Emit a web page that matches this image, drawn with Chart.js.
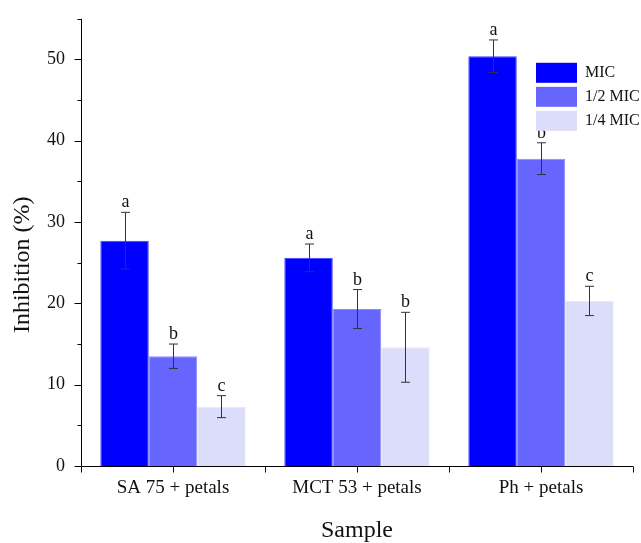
<!DOCTYPE html>
<html>
<head>
<meta charset="utf-8">
<script src="https://cdn.jsdelivr.net/npm/chart.js@4"></script>
<style>
  html, body { margin: 0; padding: 0; background: #fff; }
  #wrap { width: 641px; height: 543px; }
</style>
</head>
<body>
<div id="wrap"><canvas id="c" width="641" height="543"></canvas></div>
<script>
// Inhibition (%) per sample at three concentrations, with SD and significance letters.
const categories = ['SA 75 + petals', 'MCT 53 + petals', 'Ph + petals'];
const seriesNames = ['MIC', '1/2 MIC', '1/4 MIC'];
const seriesColors = ['#0000ff', '#6666ff', '#dcdcfb'];
const seriesEdges = ['#4040ff', '#8c8cff', '#e8e8fd'];

const micValues = [27.7, 25.6, 50.4];
const halfMicValues = [13.5, 19.3, 37.8];
const quarterMicValues = [7.3, 14.6, 20.3];

const micErrors = [3.5, 1.7, 2.0];
const halfMicErrors = [1.5, 2.4, 1.95];
const quarterMicErrors = [1.35, 4.3, 1.8];

const micLetters = ['a', 'a', 'a'];
const halfMicLetters = ['b', 'b', 'b'];
const quarterMicLetters = ['c', 'b', 'c'];

const yTicks = [0, 10, 20, 30, 40, 50];
const FONT = '"Liberation Serif", "DejaVu Serif", serif';

const values = [micValues, halfMicValues, quarterMicValues];
const errors = [micErrors, halfMicErrors, quarterMicErrors];
const letters = [micLetters, halfMicLetters, quarterMicLetters];

// error bars, letters, axis tick marks, y title and the in-plot legend
const extras = {
  id: 'extras',
  afterDatasetsDraw(chart) {
    const { ctx, chartArea: a } = chart;
    const ys = chart.scales.y;
    ctx.save();

    // error bars + letters
    values.forEach((vals, i) => {
      const meta = chart.getDatasetMeta(i);
      vals.forEach((v, j) => {
        const x = Math.round(meta.data[j].x) + 0.5;
        const top = ys.getPixelForValue(v + errors[i][j]);
        const bot = ys.getPixelForValue(v - errors[i][j]);
        ctx.strokeStyle = '#333';
        ctx.lineWidth = 1;
        ctx.beginPath();
        ctx.moveTo(x, top); ctx.lineTo(x, bot);
        ctx.moveTo(x - 4.5, top); ctx.lineTo(x + 4.5, top);
        ctx.moveTo(x - 4.5, bot); ctx.lineTo(x + 4.5, bot);
        ctx.stroke();
        ctx.fillStyle = '#111';
        ctx.font = '18px ' + FONT;
        ctx.textAlign = 'center';
        ctx.textBaseline = 'alphabetic';
        ctx.fillText(letters[i][j], x, top - 5);
      });
    });

    // axis lines and tick marks
    ctx.strokeStyle = '#000';
    ctx.lineWidth = 1;
    ctx.beginPath();
    const ax = Math.round(a.left) + 0.5;
    const ay = Math.round(a.bottom) + 0.5;
    ctx.moveTo(ax, a.top); ctx.lineTo(ax, ay);
    ctx.moveTo(ax, ay); ctx.lineTo(a.right, ay);
    for (let v = 0; v <= ys.max; v += 5) {
      const y = Math.round(ys.getPixelForValue(v)) + 0.5;
      const len = v % 10 === 0 ? 7 : 4;
      ctx.moveTo(ax - len, y); ctx.lineTo(ax, y);
    }
    const step = (a.right - a.left) / categories.length;
    for (let k = 0; k <= categories.length * 2; k++) {
      const x = Math.round(a.left + k * step / 2) + 0.5;
      ctx.moveTo(x, ay); ctx.lineTo(x, ay + 6);
    }
    ctx.stroke();

    // y title (sits a little below the axis middle in the original)
    ctx.save();
    ctx.translate(23, a.top + (a.bottom - a.top) * 0.55);
    ctx.rotate(-Math.PI / 2);
    ctx.font = '24px ' + FONT;
    ctx.fillStyle = '#111';
    ctx.textAlign = 'center';
    ctx.textBaseline = 'middle';
    ctx.fillText('Inhibition (%)', 0, 0);
    ctx.restore();

    // legend
    ctx.font = '16px ' + FONT;
    ctx.textAlign = 'left';
    ctx.textBaseline = 'middle';
    const lx = a.right - 97;
    seriesNames.forEach((name, i) => {
      const y = a.top + 44 + i * 24;
      ctx.fillStyle = seriesColors[i];
      ctx.fillRect(lx, y, 41, 20);
      ctx.fillStyle = '#111';
      ctx.fillText(name, lx + 49, y + 10);
    });
    ctx.restore();
  }
};

const datasets = seriesNames.map((name, i) => ({
  label: name,
  data: values[i],
  backgroundColor: seriesColors[i],
  borderColor: seriesEdges[i],
  borderWidth: 1,
}));

new Chart(document.getElementById('c').getContext('2d'), {
  type: 'bar',
  data: { labels: categories, datasets },
  plugins: [extras],
  options: {
    responsive: false,
    animation: false,
    devicePixelRatio: 1,
    layout: { padding: { left: 0, right: 8, top: 10, bottom: 0 } },
    datasets: { bar: { categoryPercentage: 0.79, barPercentage: 1.0 } },
    plugins: { legend: { display: false }, tooltip: { enabled: false } },
    scales: {
      x: {
        grid: { display: false },
        border: { display: false },
        ticks: { color: '#111', font: { family: FONT, size: 19 }, padding: 3, maxRotation: 0 },
        title: { display: true, text: 'Sample', color: '#111', font: { family: FONT, size: 24 }, padding: { top: 0, bottom: -2 } },
        afterFit: (s) => { s.height = 77; },
      },
      y: {
        min: 0,
        max: 55,
        afterBuildTicks: (s) => { s.ticks = yTicks.map((v) => ({ value: v })); },
        grid: { display: false },
        border: { display: false },
        ticks: { color: '#111', font: { family: FONT, size: 18 }, padding: 8 },
        afterFit: (s) => { s.width = 81; },
      },
    },
  },
});
</script>
</body>
</html>
